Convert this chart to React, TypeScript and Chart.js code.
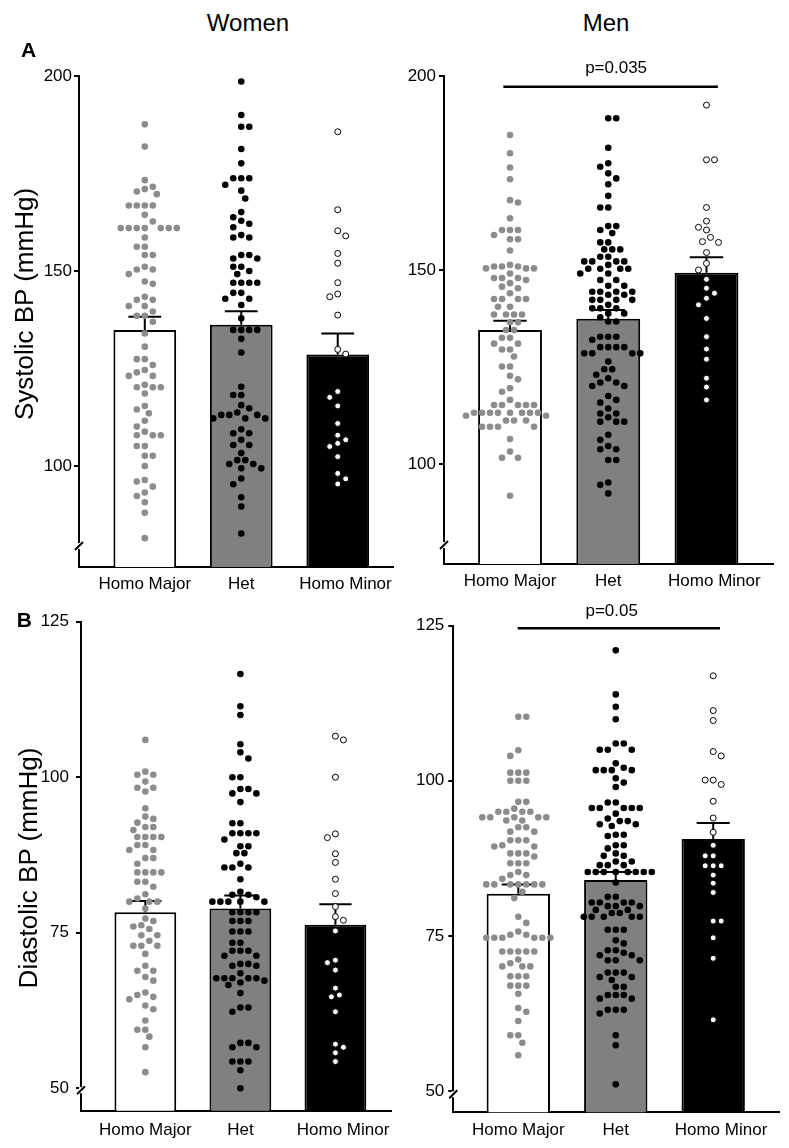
import React, { useEffect, useRef } from 'react';
import { Chart, registerables } from 'chart.js';

Chart.register(...registerables);

const FONT = '"Liberation Sans", Arial, Helvetica, sans-serif';
Chart.defaults.font.family = FONT;
Chart.defaults.font.size = 17;
Chart.defaults.color = '#000';

// ---------------- data ----------------
const categories = ['Homo Major', 'Het', 'Homo Minor'];
const columnTitles = ['Women', 'Men'];
const panelLetters = ['A', 'B'];
const yTitles = ['Systolic BP (mmHg)', 'Diastolic BP (mmHg)'];
const pLabels = ['p=0.035', 'p=0.05'];

const sysTicks = [100, 150, 200];
const diaTicks = [50, 75, 100, 125];

const womenSysMeans = [134.9, 136.2, 128.6];
const womenSysSem = [3.4, 3.5, 5.4];
const menSysMeans = [134.5, 137.4, 149.3];
const menSysSem = [2.4, 2.3, 4.0];
const womenDiaMeans = [78.3, 78.9, 76.3];
const womenDiaSem = [1.8, 2.1, 3.3];
const menDiaMeans = [81.8, 84.0, 90.6];
const menDiaSem = [1.5, 1.3, 2.6];

const womenSysMajor = [187.6, 181.9, 173.3, 171.6, 171.0, 170.4, 169.7, 166.8, 166.8, 166.8, 166.8, 164.4, 162.7, 161.0, 161.0, 161.0, 161.0, 161.0, 161.0, 161.0, 158.6, 156.2, 156.2, 154.1, 154.1, 151.1, 150.4, 150.4, 149.2, 147.3, 146.7, 143.4, 142.6, 142.6, 141.0, 141.0, 139.6, 138.5, 138.5, 137.0, 134.0, 130.6, 127.4, 127.4, 125.9, 124.6, 124.0, 123.1, 123.1, 120.8, 120.2, 120.2, 120.2, 118.6, 115.4, 114.5, 113.5, 111.6, 110.1, 108.8, 107.9, 107.9, 107.9, 105.1, 105.1, 102.6, 102.6, 100.0, 96.4, 96.0, 94.7, 93.2, 92.3, 90.7, 88.0, 81.5];
const womenSysHet = [198.6, 190.0, 187.0, 187.0, 181.3, 177.6, 173.8, 173.8, 173.8, 172.1, 170.6, 168.6, 165.1, 163.8, 162.9, 162.1, 161.2, 159.2, 158.6, 158.6, 154.1, 154.1, 153.2, 153.2, 151.1, 151.1, 150.0, 149.2, 147.0, 147.0, 147.0, 147.0, 144.4, 144.4, 142.9, 142.9, 141.3, 137.9, 134.9, 134.9, 134.9, 134.9, 132.6, 129.1, 120.3, 118.2, 118.2, 115.6, 114.8, 113.7, 113.1, 113.1, 113.1, 112.2, 112.2, 112.2, 109.4, 108.4, 108.4, 106.7, 105.4, 105.4, 103.3, 101.5, 101.5, 100.5, 100.5, 99.4, 99.4, 96.8, 95.3, 92.0, 89.6, 82.7];
const womenSysMinor = [185.7, 165.7, 160.3, 159.0, 154.5, 152.0, 147.0, 144.1, 143.4, 138.7, 129.9, 128.7, 119.1, 117.6, 115.4, 110.9, 107.9, 106.7, 105.8, 105.0, 102.4, 98.1, 96.7, 95.4];

const menSysMajor = [184.8, 180.1, 176.4, 173.4, 168.0, 167.4, 163.3, 160.3, 160.3, 160.3, 159.0, 157.9, 157.9, 155.0, 151.3, 150.9, 150.9, 150.9, 150.4, 150.4, 150.4, 149.1, 147.9, 147.9, 147.9, 147.4, 146.6, 145.7, 145.3, 144.0, 142.5, 142.5, 142.5, 142.5, 140.5, 140.5, 138.5, 138.5, 138.5, 138.5, 136.5, 136.5, 134.5, 134.5, 132.5, 132.5, 131.0, 131.0, 129.5, 129.5, 127.7, 125.1, 125.1, 122.7, 121.8, 119.5, 118.6, 116.5, 115.2, 115.2, 115.2, 115.2, 115.2, 113.2, 113.2, 113.2, 113.2, 113.2, 113.2, 113.2, 113.2, 112.4, 112.4, 111.2, 111.2, 111.2, 109.6, 109.6, 109.6, 109.6, 106.4, 103.2, 101.6, 101.6, 91.8];
const menSysHet = [189.1, 189.1, 181.5, 177.5, 176.6, 174.9, 173.6, 172.1, 169.1, 166.1, 166.1, 161.3, 161.3, 160.3, 159.5, 157.1, 157.1, 155.3, 155.3, 155.3, 153.4, 153.4, 152.2, 152.2, 152.2, 152.2, 151.3, 150.3, 150.3, 150.3, 150.3, 149.1, 149.1, 147.4, 147.4, 145.9, 145.9, 144.4, 144.4, 144.4, 144.4, 143.6, 143.6, 142.3, 142.3, 142.3, 142.3, 141.0, 140.1, 140.1, 140.1, 138.8, 138.8, 137.8, 136.7, 136.7, 132.8, 132.8, 132.8, 132.0, 130.1, 130.1, 130.1, 130.1, 128.5, 128.5, 128.5, 128.5, 126.4, 124.4, 124.4, 123.0, 122.1, 121.0, 121.0, 120.1, 120.1, 117.5, 116.5, 115.8, 114.3, 113.0, 113.0, 112.0, 110.9, 110.9, 110.9, 107.5, 106.2, 104.6, 103.8, 103.8, 101.0, 101.0, 95.2, 94.6, 92.4];
const menSysMinor = [192.5, 178.4, 178.4, 166.1, 162.6, 161.0, 160.3, 158.4, 157.3, 157.1, 154.5, 151.7, 150.0, 147.6, 145.3, 144.0, 142.7, 141.0, 137.5, 132.8, 129.6, 127.0, 122.1, 119.8, 116.5];

const womenDiaMajor = [106.0, 100.9, 100.4, 100.4, 99.3, 98.3, 98.3, 97.7, 95.0, 93.7, 93.3, 92.7, 92.0, 92.0, 91.5, 90.4, 90.4, 90.4, 90.4, 89.1, 89.1, 88.3, 88.3, 87.0, 87.0, 86.1, 84.7, 84.7, 84.7, 84.7, 83.2, 83.2, 82.4, 81.2, 80.5, 80.0, 80.0, 80.0, 78.9, 77.3, 76.9, 76.2, 76.0, 75.6, 74.6, 74.6, 73.7, 72.9, 72.9, 72.9, 71.6, 69.7, 68.9, 68.9, 67.9, 67.3, 65.4, 65.0, 64.7, 64.3, 63.3, 62.7, 60.9, 59.4, 59.4, 58.3, 56.6, 52.6];
const womenDiaHet = [116.6, 111.4, 110.0, 105.3, 104.0, 103.0, 100.0, 100.0, 98.1, 98.1, 97.4, 97.4, 96.0, 92.6, 92.6, 91.0, 91.0, 91.0, 91.0, 90.0, 88.9, 88.9, 87.8, 87.8, 86.1, 85.5, 85.5, 85.5, 83.6, 81.6, 81.1, 81.1, 80.7, 80.0, 80.0, 80.0, 80.0, 80.0, 78.3, 78.3, 78.3, 78.3, 76.9, 76.9, 76.9, 75.2, 75.2, 75.2, 73.4, 73.4, 72.1, 72.1, 72.1, 71.3, 71.3, 70.0, 70.0, 69.7, 69.7, 68.5, 67.7, 67.7, 67.7, 67.7, 67.7, 67.3, 67.0, 66.6, 65.3, 63.0, 63.0, 62.3, 57.3, 57.3, 56.6, 56.6, 54.3, 54.3, 54.3, 52.9, 50.0];
const womenDiaMinor = [106.6, 106.0, 100.0, 90.9, 90.3, 87.7, 86.3, 83.6, 81.3, 79.2, 77.6, 77.0, 75.3, 70.6, 70.2, 69.0, 66.1, 65.0, 64.7, 62.3, 57.1, 56.6, 55.7, 54.3];

const menDiaMajor = [110.3, 110.3, 104.9, 104.0, 101.3, 101.3, 101.3, 100.0, 100.0, 100.0, 96.6, 96.6, 95.5, 95.0, 95.0, 95.0, 95.0, 94.1, 94.1, 94.1, 94.1, 94.1, 93.6, 93.6, 92.5, 92.5, 91.8, 91.8, 90.4, 90.4, 90.4, 89.6, 89.4, 89.4, 88.3, 88.3, 88.3, 87.8, 86.7, 86.7, 86.7, 85.3, 84.8, 84.8, 84.2, 83.3, 83.3, 83.3, 83.3, 83.3, 83.3, 83.3, 82.1, 81.1, 78.1, 77.1, 75.7, 75.2, 75.2, 74.7, 74.7, 74.7, 74.7, 74.7, 74.7, 72.5, 72.5, 72.5, 72.5, 72.5, 71.2, 70.6, 70.1, 70.1, 70.1, 68.5, 68.5, 68.5, 67.0, 67.0, 67.0, 65.7, 63.4, 62.8, 61.3, 59.0, 59.0, 57.8, 55.8];
const menDiaHet = [121.0, 113.9, 111.9, 109.9, 106.0, 106.0, 105.0, 105.0, 105.0, 102.8, 102.1, 101.7, 101.7, 101.7, 101.7, 100.4, 99.7, 99.0, 96.5, 96.5, 95.6, 95.6, 95.6, 95.6, 95.6, 94.7, 93.9, 93.5, 93.5, 93.0, 93.0, 92.7, 91.3, 91.3, 91.1, 89.6, 89.6, 89.1, 88.3, 87.9, 87.9, 87.0, 87.0, 86.4, 86.4, 86.4, 85.3, 85.3, 85.3, 85.3, 85.3, 85.3, 85.3, 85.3, 83.6, 81.3, 81.3, 80.4, 80.4, 80.4, 80.4, 79.8, 79.8, 79.8, 79.2, 79.2, 78.7, 78.7, 78.1, 78.1, 78.1, 78.1, 78.1, 76.0, 76.0, 76.0, 74.3, 73.8, 72.7, 72.7, 72.3, 71.9, 71.9, 71.1, 71.1, 71.1, 69.1, 69.1, 69.1, 68.4, 68.4, 67.9, 66.8, 66.8, 65.5, 65.5, 65.5, 64.9, 64.9, 63.1, 63.1, 63.1, 62.5, 59.0, 57.4, 51.1];
const menDiaMinor = [116.9, 111.3, 109.7, 104.7, 104.0, 100.1, 100.1, 99.4, 96.7, 94.0, 91.7, 89.6, 87.9, 87.9, 86.3, 86.3, 86.3, 84.8, 83.5, 82.0, 77.4, 77.4, 74.7, 71.4, 61.5];

// ---------------- layout / style ----------------
type Sig = { from: number; to: number; y: number; textX: number; textY: number; label: string };
type Spec = {
  left: number; top: number; width: number; height: number;
  padTop: number; padRight: number; yWidth: number; xHeight: number;
  yMin: number; yMax: number; yTicks: number[]; yPad: number; xPad: number;
  xMin: number; xMax: number; breakAt: number;
  groups: number[][]; means: number[]; sems: number[]; sig?: Sig;
};

const panels: Spec[] = [
  {
    left: 0, top: 40, width: 400, height: 560, padTop: 36, padRight: 3, yWidth: 79, xHeight: 33,
    yMin: 74.1, yMax: 200, yTicks: sysTicks, yPad: 2, xPad: 7.5, xMin: -0.682, xMax: 2.58, breakAt: 79.5,
    groups: [womenSysMajor, womenSysHet, womenSysMinor], means: womenSysMeans, sems: womenSysSem,
  },
  {
    left: 400, top: 40, width: 389, height: 560, padTop: 36, padRight: 16, yWidth: 44, xHeight: 36,
    yMin: 74.2, yMax: 200, yTicks: sysTicks, yPad: 3, xPad: 7.6, xMin: -0.672, xMax: 2.677, breakAt: 79.1,
    groups: [menSysMajor, menSysHet, menSysMinor], means: menSysMeans, sems: menSysSem,
    sig: { from: -0.068, to: 2.116, y: 197.2, textX: 1.08, textY: 200.85, label: pLabels[0] },
  },
  {
    left: 0, top: 600, width: 400, height: 548, padTop: 21.7, padRight: 0, yWidth: 81, xHeight: 37.3,
    yMin: 46.4, yMax: 125, yTicks: diaTicks, yPad: 7, xPad: 9.9, xMin: -0.677, xMax: 2.595, breakAt: 49.7,
    groups: [womenDiaMajor, womenDiaHet, womenDiaMinor], means: womenDiaMeans, sems: womenDiaSem,
  },
  {
    left: 400, top: 600, width: 389, height: 548, padTop: 25.5, padRight: 10, yWidth: 53.3, xHeight: 35.7,
    yMin: 46.6, yMax: 125, yTicks: diaTicks, yPad: 4, xPad: 7.6, xMin: -0.667, xMax: 2.675, breakAt: 49.5,
    groups: [menDiaMajor, menDiaHet, menDiaMinor], means: menDiaMeans, sems: menDiaSem,
    sig: { from: -0.006, to: 2.07, y: 124.54, textX: 0.958, textY: 126.6, label: pLabels[1] },
  },
];

const pointFill = ['#8c8c8c', '#000000', '#ffffff'];
const pointBorder = ['#8c8c8c', '#000000', '#000000'];
const pointRadius = [3.3, 3.3, 3.0];
const pointBorderW = [0, 0, 1];
const barFill = ['#ffffff', '#808080', '#000000'];
const labelTicks = [0, 1, 2.08];
const CAP_HALF = 0.17;
const SWARM_SEP = 7.8; // px min distance between dot centres
const SWARM_STEP = 4.0; // px horizontal grid step

function Panel({ spec }: { spec: Spec }) {
  const ref = useRef<HTMLCanvasElement>(null);
  useEffect(() => {
    const deco = {
      id: 'panelDeco',
      afterDatasetDraw(chart: any, args: any) {
        if (args.meta.type !== 'bar') return;
        const { ctx, scales } = chart;
        const x = scales.x, y = scales.y;
        ctx.save();
        ctx.strokeStyle = '#000';
        ctx.lineWidth = 2;
        spec.means.forEach((m, i) => {
          const px = x.getPixelForValue(i);
          const hw = x.getPixelForValue(i + CAP_HALF) - px;
          const y0 = y.getPixelForValue(m);
          const y1 = y.getPixelForValue(m + spec.sems[i]);
          ctx.beginPath();
          ctx.moveTo(px, y0);
          ctx.lineTo(px, y1);
          ctx.moveTo(px - hw, y1);
          ctx.lineTo(px + hw, y1);
          ctx.stroke();
        });
        ctx.restore();
      },
      afterDraw(chart: any) {
        const { ctx, scales, chartArea } = chart;
        const x = scales.x, y = scales.y;
        ctx.save();
        // axis break
        const ax = chartArea.left;
        const py = y.getPixelForValue(spec.breakAt);
        ctx.fillStyle = '#fff';
        ctx.fillRect(ax - 2, py - 3, 4, 6);
        ctx.strokeStyle = '#000';
        ctx.lineWidth = 2;
        ctx.beginPath();
        ctx.moveTo(ax - 4, py + 4);
        ctx.lineTo(ax + 4, py - 4);
        ctx.stroke();
        // significance
        if (spec.sig) {
          const s = spec.sig;
          const sy = y.getPixelForValue(s.y);
          ctx.lineWidth = 2.5;
          ctx.beginPath();
          ctx.moveTo(x.getPixelForValue(s.from), sy);
          ctx.lineTo(x.getPixelForValue(s.to), sy);
          ctx.stroke();
          ctx.fillStyle = '#000';
          ctx.font = `17px ${FONT}`;
          ctx.textAlign = 'center';
          ctx.textBaseline = 'alphabetic';
          ctx.fillText(s.label, x.getPixelForValue(s.textX), y.getPixelForValue(s.textY));
        }
        ctx.restore();
      },
    };

    const datasets: any[] = spec.groups.map((vals, gi) => ({
      type: 'scatter',
      data: vals.map((v) => ({ x: gi, y: v })),
      backgroundColor: pointFill[gi],
      borderColor: pointBorder[gi],
      borderWidth: pointBorderW[gi],
      pointRadius: pointRadius[gi],
      order: 1,
    }));
    datasets.push({
      type: 'bar',
      data: spec.means.map((m, i) => ({ x: i, y: m })),
      backgroundColor: barFill,
      borderColor: '#000',
      borderWidth: 2,
      barPercentage: 0.65,
      categoryPercentage: 1,
      order: 2,
    });

    const chart = new Chart(ref.current as HTMLCanvasElement, {
      type: 'bar',
      data: { datasets },
      plugins: [deco],
      options: {
        responsive: false,
        animation: false,
        events: [],
        devicePixelRatio: 1,
        layout: { padding: { top: spec.padTop, right: spec.padRight, bottom: 0, left: 0 } },
        plugins: { legend: { display: false }, tooltip: { enabled: false } },
        scales: {
          x: {
            type: 'linear',
            offset: false,
            min: spec.xMin,
            max: spec.xMax,
            afterBuildTicks: (axis: any) => {
              axis.ticks = labelTicks.map((v) => ({ value: v }));
            },
            afterFit: (axis: any) => {
              axis.height = spec.xHeight;
            },
            ticks: {
              autoSkip: false,
              maxRotation: 0,
              padding: spec.xPad,
              font: { size: 17 },
              color: '#000',
              callback: (_v: any, i: number) => categories[i],
            },
            grid: { display: false, drawTicks: false, offset: false },
            border: { display: true, color: '#000', width: 2 },
          },
          y: {
            type: 'linear',
            min: spec.yMin,
            max: spec.yMax,
            afterBuildTicks: (axis: any) => {
              axis.ticks = spec.yTicks.map((v) => ({ value: v }));
            },
            afterFit: (axis: any) => {
              axis.width = spec.yWidth;
            },
            ticks: { padding: spec.yPad, font: { size: 17 }, color: '#000', autoSkip: false },
            grid: { display: true, drawOnChartArea: false, drawTicks: true, tickLength: 5, color: '#000', lineWidth: 2 },
            border: { display: true, color: '#000', width: 2 },
          },
        },
      } as any,
    });

    // beeswarm layout of the dots, computed from the chart's own scales
    const xs: any = chart.scales.x;
    const ys: any = chart.scales.y;
    const unit = xs.getPixelForValue(1) - xs.getPixelForValue(0);
    spec.groups.forEach((vals, gi) => {
      const placed: { x: number; y: number }[] = [];
      let side = 1;
      const free = (off: number, py: number) =>
        placed.every((p) => (p.x - off) ** 2 + (p.y - py) ** 2 >= SWARM_SEP * SWARM_SEP);
      const pts = vals.map((v) => {
        const py = ys.getPixelForValue(v);
        let off = 0;
        if (!free(0, py)) {
          for (let k = 1; k < 40; k++) {
            const a = side * k * SWARM_STEP;
            if (free(a, py)) { off = a; side = -side; break; }
            if (free(-a, py)) { off = -a; break; }
          }
        }
        placed.push({ x: off, y: py });
        return { x: gi + off / unit, y: v };
      });
      (chart.data.datasets[gi] as any).data = pts;
    });
    chart.update('none');

    return () => chart.destroy();
  }, []);

  return (
    <canvas
      ref={ref}
      width={spec.width}
      height={spec.height}
      style={{ position: 'absolute', left: spec.left, top: spec.top, width: spec.width, height: spec.height }}
    />
  );
}

const textBase: React.CSSProperties = { position: 'absolute', lineHeight: 1, whiteSpace: 'nowrap', color: '#000', fontFamily: FONT };

export default function App() {
  return (
    <div style={{ position: 'absolute', left: 0, top: 0, width: 789, height: 1148, background: '#fff', overflow: 'hidden' }}>
      {panels.map((p, i) => (
        <Panel key={i} spec={p} />
      ))}
      <div style={{ ...textBase, left: 248, top: 11.4, fontSize: 24, transform: 'translateX(-50%)' }}>{columnTitles[0]}</div>
      <div style={{ ...textBase, left: 606, top: 11.4, fontSize: 24, transform: 'translateX(-50%)' }}>{columnTitles[1]}</div>
      <div style={{ ...textBase, left: 21, top: 38.9, fontSize: 21, fontWeight: 'bold' }}>{panelLetters[0]}</div>
      <div style={{ ...textBase, left: 16.7, top: 608.9, fontSize: 21, fontWeight: 'bold' }}>{panelLetters[1]}</div>
      <div style={{ ...textBase, left: 24.3, top: 304, fontSize: 26, transform: 'translate(-50%, -50%) rotate(-90deg)' }}>{yTitles[0]}</div>
      <div style={{ ...textBase, left: 28.3, top: 868, fontSize: 26, transform: 'translate(-50%, -50%) rotate(-90deg)' }}>{yTitles[1]}</div>
    </div>
  );
}
